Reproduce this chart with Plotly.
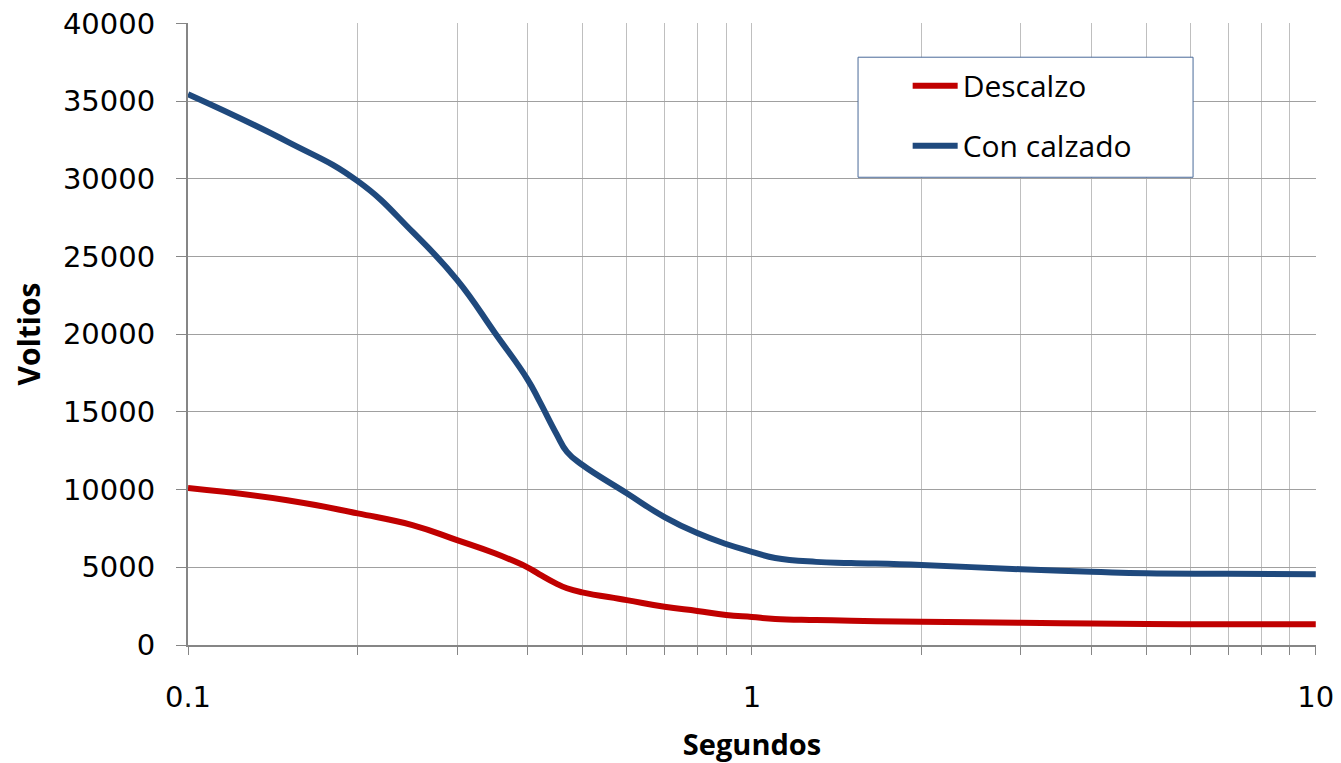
import plotly.graph_objects as go

segundos = [0.1, 0.15, 0.2, 0.25, 0.3, 0.35, 0.4, 0.42, 0.45, 0.47, 0.5, 0.6, 0.7, 0.8, 0.9,
            1.0, 1.1, 1.3, 1.5, 2, 3, 4, 5, 7, 10]
descalzo = [10100, 9320, 8470, 7720, 6750, 5900, 5000, 4550, 3950, 3650, 3390, 2890, 2460, 2190, 1930,
            1800, 1680, 1610, 1560, 1500, 1430, 1390, 1350, 1340, 1330]
con_calzado = [35450, 32400, 29850, 26600, 23500, 20100, 17100, 15700, 13600, 12430, 11600, 9770, 8230, 7200, 6500,
               6000, 5600, 5350, 5280, 5150, 4870, 4720, 4610, 4580, 4550]

x_major = [0.1, 1, 10]
x_major_text = ["0.1", "1", "10"]
x_minor = [0.2, 0.3, 0.4, 0.5, 0.6, 0.7, 0.8, 0.9, 2, 3, 4, 5, 6, 7, 8, 9]
y_ticks = [0, 5000, 10000, 15000, 20000, 25000, 30000, 35000, 40000]
y_tick_text = ["0", "5000", "10000", "15000", "20000", "25000", "30000", "35000", "40000"]

fig = go.Figure()
fig.add_trace(go.Scatter(x=segundos, y=descalzo, name="Descalzo", mode="lines",
                         line=dict(color="#C00000", width=6, shape="spline", smoothing=1.3),
                         legendgroup="a"))
fig.add_trace(go.Scatter(x=segundos, y=con_calzado, name="Con calzado", mode="lines",
                         line=dict(color="#1F497D", width=6, shape="spline", smoothing=1.3),
                         legendgroup="b"))

fig.add_shape(type="rect", xref="paper", yref="paper", x0=0.594, x1=0.891, y0=0.752, y1=0.945,
              line=dict(color="#4A6A99", width=1), fillcolor="white", layer="above")

fig.update_layout(
    width=1341, height=763,
    margin=dict(l=180, r=33, t=15, b=126),
    paper_bgcolor="white", plot_bgcolor="white",
    showlegend=True,
    legend=dict(x=0.638, y=0.941, xanchor="left", yanchor="top",
                bgcolor="rgba(0,0,0,0)", borderwidth=0,
                font=dict(family="Open Sans", size=30, color="black"),
                traceorder="grouped", tracegroupgap=18, itemwidth=45),
    xaxis=dict(type="log", range=[-1, 1.0004], tickmode="array", tickvals=x_major, ticktext=x_major_text,
               automargin=False, ticklabeloverflow="allow",
               showgrid=True, gridcolor="#BFBFBF", gridwidth=1,
               showline=True, linecolor="#868686", linewidth=2,
               ticks="outside", ticklen=8, tickcolor="#868686",
               ticklabelstandoff=17,
               tickfont=dict(family="DejaVu Sans", size=29, color="black"),
               minor=dict(tickmode="array", tickvals=x_minor, showgrid=True, gridcolor="#BFBFBF",
                          gridwidth=1, ticks="outside", ticklen=8, tickcolor="#868686"),
               title=dict(text="<b>Segundos</b>", font=dict(family="Open Sans", size=29, color="black"),
                          standoff=22),
               zeroline=False),
    yaxis=dict(range=[0, 40030], tickmode="array", tickvals=y_ticks, ticktext=y_tick_text,
               automargin=False, ticklabeloverflow="allow",
               showgrid=True, gridcolor="#A0A0A0", gridwidth=1,
               showline=True, linecolor="#868686", linewidth=2,
               ticks="outside", ticklen=10, tickcolor="#868686",
               ticklabelstandoff=15,
               tickfont=dict(family="DejaVu Sans", size=29, color="black"),
               title=dict(text="<b>Voltios</b>", font=dict(family="Open Sans", size=30, color="black"),
                          standoff=14),
               zeroline=False),
)

fig.write_html("out.html")
